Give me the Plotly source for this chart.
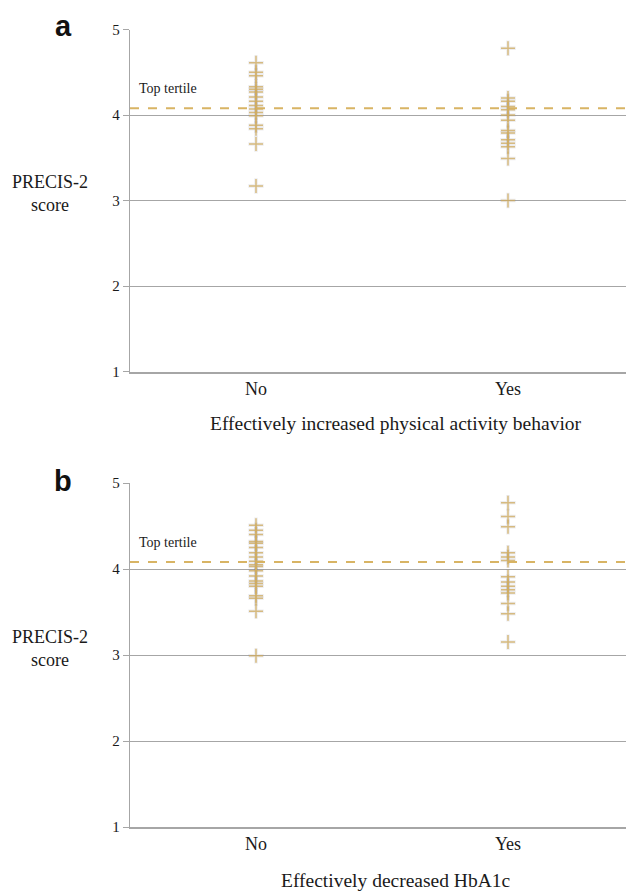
import plotly.graph_objects as go

categories = ["No", "Yes"]

# Panel a: Effectively increased physical activity behavior
a_no = [4.61, 4.50, 4.46, 4.33, 4.30, 4.27, 4.21, 4.16, 4.11, 4.07, 4.03, 3.99, 3.88, 3.84, 3.66, 3.17]
a_yes = [4.78, 4.20, 4.16, 4.10, 4.06, 4.00, 3.94, 3.82, 3.79, 3.71, 3.67, 3.63, 3.49, 3.00]

# Panel b: Effectively decreased HbA1c
b_no = [4.51, 4.45, 4.40, 4.32, 4.30, 4.25, 4.19, 4.14, 4.09, 4.05, 4.03, 3.98, 3.92, 3.86, 3.83, 3.80, 3.69, 3.66, 3.51, 2.99]
b_yes = [4.77, 4.61, 4.49, 4.19, 4.14, 4.10, 3.91, 3.85, 3.80, 3.76, 3.72, 3.60, 3.48, 3.15]

top_tertile = 4.08
y_ticks = [1, 2, 3, 4, 5]
x_titles = ["Effectively increased physical activity behavior", "Effectively decreased HbA1c"]
panel_letters = ["a", "b"]

# page body has an 8px margin, so the figure is drawn 8px in from the window edge
OFF = 8
W, H = 634 - OFF, 892 - OFF
SERIF = "Liberation Serif, Times New Roman, serif"
GOLD = "rgba(208,172,96,0.78)"
GRID = "#a6a6a6"
TXT = "#1a1a1a"


def py(px):
    return 1 - (px - OFF) / H


def pxx(px):
    return (px - OFF) / W


fig = go.Figure()

panels = [
    (a_no, a_yes, "x", "y", [py(371.5), py(29.5)], 423, 8),
    (b_no, b_yes, "x2", "y2", [py(827), py(483)], 880, 463),
]

for i, (no_vals, yes_vals, xa, ya, dom, title_px, letter_px) in enumerate(panels):
    xs = [categories[0]] * len(no_vals) + [categories[1]] * len(yes_vals)
    ys = no_vals + yes_vals
    # soft grey shadow
    fig.add_trace(go.Scatter(
        x=xs, y=ys, mode="markers", xaxis=xa, yaxis=ya, showlegend=False, hoverinfo="skip",
        marker=dict(symbol="cross-thin", size=11, line=dict(width=3.5, color="rgba(130,130,145,0.14)")),
    ))
    fig.add_trace(go.Scatter(
        x=xs, y=ys, mode="markers", xaxis=xa, yaxis=ya, showlegend=False,
        marker=dict(symbol="cross-thin", size=10, line=dict(width=1.5, color=GOLD)),
    ))
    sfx = "" if i == 0 else str(i + 1)
    fig.update_layout(**{
        "xaxis" + sfx: dict(
            domain=[pxx(130), 1.0], anchor="y" + sfx, type="category",
            categoryorder="array", categoryarray=categories, range=[-0.5, 1.5],
            showgrid=False, showline=True, linecolor=GRID, linewidth=1.5,
            ticks="", tickfont=dict(family=SERIF, size=18, color=TXT),
            zeroline=False, fixedrange=True, automargin=False,
        ),
        "yaxis" + sfx: dict(
            domain=dom, anchor="x" + sfx, range=[1, 5], tickvals=y_ticks,
            showgrid=True, gridcolor=GRID, gridwidth=1.3, showline=True, linecolor=GRID, linewidth=1.3,
            ticks="outside", ticklen=6, tickcolor=GRID, tickwidth=1.3,
            tickfont=dict(family=SERIF, size=15, color=TXT), zeroline=False, automargin=False,
        ),
    })
    # Top tertile dashed line
    fig.add_shape(type="line", xref="x" + sfx + " domain", yref="y" + sfx,
                  x0=0, x1=1, y0=top_tertile, y1=top_tertile,
                  line=dict(color="rgba(214,176,92,0.95)", width=2, dash="dash"))
    fig.add_annotation(xref="x" + sfx + " domain", yref="y" + sfx, x=0.014, y=top_tertile,
                       yshift=20, text="Top tertile", showarrow=False, xanchor="left", yanchor="middle",
                       font=dict(family=SERIF, size=14, color=TXT))
    # Y title
    fig.add_annotation(xref="paper", yref="y" + sfx, x=pxx(50), y=3.08,
                       text="PRECIS-2<br>score", showarrow=False, xanchor="center", yanchor="middle",
                       align="center", font=dict(family=SERIF, size=18, color=TXT))
    # X title
    fig.add_annotation(xref="paper", yref="paper", x=pxx(396), y=py(title_px),
                       text=x_titles[i], showarrow=False, xanchor="center", yanchor="middle",
                       font=dict(family=SERIF, size=19.5, color=TXT))
    # Panel letter
    fig.add_annotation(xref="paper", yref="paper", x=pxx(63), y=py(letter_px),
                       text="<b>" + panel_letters[i] + "</b>", showarrow=False,
                       xanchor="center", yanchor="top",
                       font=dict(family="Liberation Sans, Arial, sans-serif", size=29, color="#111"))

fig.update_layout(
    width=W, height=H, margin=dict(l=0, r=0, t=0, b=0, autoexpand=False),
    paper_bgcolor="white", plot_bgcolor="white",
)

fig.write_html("out.html")
